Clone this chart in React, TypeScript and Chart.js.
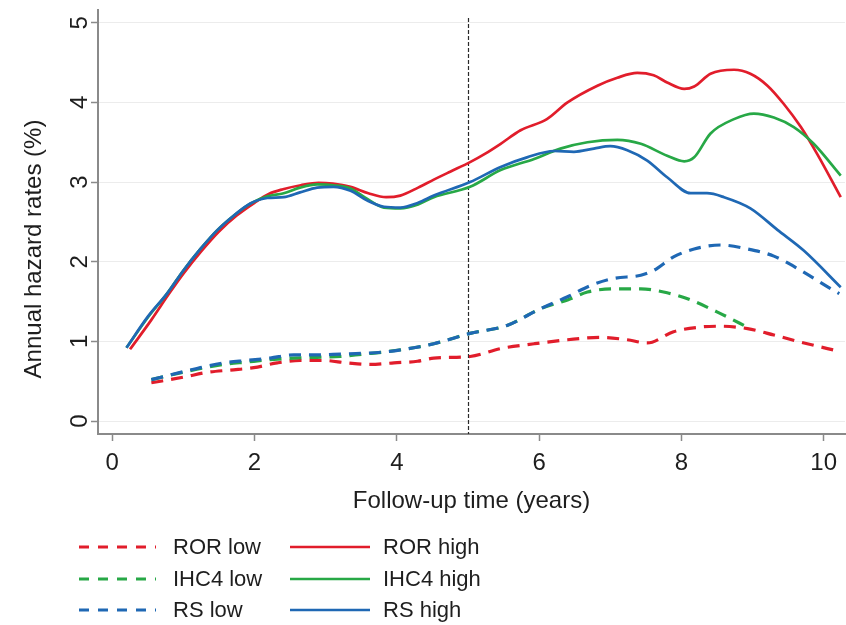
import { useEffect, useRef } from "react";
import { Chart, registerables } from "chart.js";

Chart.register(...registerables);

// ---- tick labels / axis settings ----
const xTicks = [0, 2, 4, 6, 8, 10];
const yTicks = [0, 1, 2, 3, 4, 5];
const cutoffYear = 5;
const xTitle = "Follow-up time (years)";
const yTitle = "Annual hazard rates (%)";

// ---- series ----
const rorHighX = [0.25, 0.55, 0.8, 1.0, 1.25, 1.5, 1.75, 2.0, 2.2, 2.4, 2.65, 2.9, 3.1, 3.35, 3.6, 3.85, 4.05, 4.3, 4.52, 4.75, 5.03, 5.25, 5.46, 5.74, 6.11, 6.4, 6.82, 7.1, 7.38, 7.61, 7.8, 8.04, 8.18, 8.41, 8.74, 8.97, 9.21, 9.44, 9.68, 9.91, 10.24];
const rorHighY = [0.9, 1.27, 1.6, 1.85, 2.13, 2.38, 2.58, 2.74, 2.85, 2.91, 2.96, 2.99, 2.98, 2.94, 2.86, 2.81, 2.83, 2.93, 3.03, 3.13, 3.25, 3.36, 3.48, 3.65, 3.79, 4.0, 4.21, 4.31, 4.37, 4.34, 4.25, 4.17, 4.2, 4.36, 4.41, 4.36, 4.21, 3.98, 3.69, 3.35, 2.81];

const ihc4HighX = [0.2, 0.5, 0.77, 1.0, 1.24, 1.47, 1.71, 1.94, 2.18, 2.41, 2.64, 2.88, 3.11, 3.35, 3.58, 3.82, 4.05, 4.3, 4.52, 5.03, 5.46, 5.93, 6.3, 6.68, 7.1, 7.43, 7.8, 8.04, 8.18, 8.41, 8.74, 9.02, 9.3, 9.58, 9.86, 10.24];
const ihc4HighY = [0.92, 1.3, 1.6, 1.89, 2.16, 2.39, 2.58, 2.73, 2.82, 2.86, 2.93, 2.97, 2.96, 2.92, 2.79, 2.68, 2.67, 2.72, 2.81, 2.94, 3.15, 3.29, 3.42, 3.5, 3.53, 3.48, 3.33, 3.26, 3.31, 3.61, 3.79, 3.86, 3.81, 3.69, 3.48, 3.08];

const rsHighX = [0.2, 0.5, 0.77, 1.0, 1.24, 1.47, 1.71, 1.94, 2.18, 2.41, 2.64, 2.88, 3.11, 3.35, 3.58, 3.82, 4.05, 4.3, 4.52, 5.03, 5.46, 5.83, 6.21, 6.49, 6.77, 7.0, 7.24, 7.52, 7.8, 8.13, 8.36, 8.6, 8.97, 9.35, 9.72, 10.24];
const rsHighY = [0.92, 1.31, 1.6, 1.89, 2.16, 2.39, 2.58, 2.73, 2.8, 2.81, 2.87, 2.93, 2.94, 2.89, 2.77, 2.69, 2.68, 2.74, 2.83, 3.0, 3.19, 3.31, 3.39, 3.38, 3.42, 3.45, 3.4, 3.27, 3.06, 2.86, 2.86, 2.81, 2.67, 2.4, 2.14, 1.68];

const rorLowX = [0.55, 1.0, 1.33, 1.66, 1.99, 2.32, 2.64, 2.97, 3.3, 3.63, 3.96, 4.29, 4.52, 5.03, 5.46, 5.93, 6.4, 6.86, 7.24, 7.52, 7.89, 8.27, 8.55, 8.93, 9.3, 9.68, 10.24];
const rorLowY = [0.48, 0.55, 0.61, 0.64, 0.67, 0.73, 0.76, 0.76, 0.73, 0.71, 0.73, 0.75, 0.79, 0.81, 0.91, 0.97, 1.02, 1.05, 1.02, 0.98, 1.12, 1.18, 1.19, 1.16, 1.08, 0.99, 0.87];

const ihc4LowX = [0.55, 1.19, 1.57, 1.89, 2.22, 2.55, 2.88, 3.21, 3.53, 3.86, 4.24, 4.52, 5.03, 5.55, 6.02, 6.4, 6.68, 7.05, 7.43, 7.8, 8.13, 8.5, 8.97];
const ihc4LowY = [0.52, 0.65, 0.71, 0.74, 0.77, 0.79, 0.8, 0.81, 0.84, 0.87, 0.92, 0.97, 1.1, 1.2, 1.41, 1.52, 1.62, 1.66, 1.66, 1.61, 1.52, 1.37, 1.16];

const rsLowX = [0.55, 1.19, 1.57, 1.89, 2.22, 2.55, 2.88, 3.21, 3.53, 3.86, 4.24, 4.52, 5.03, 5.55, 6.02, 6.4, 6.72, 7.05, 7.43, 7.61, 7.89, 8.18, 8.55, 8.93, 9.3, 9.68, 10.14, 10.22];
const rsLowY = [0.52, 0.66, 0.73, 0.76, 0.79, 0.83, 0.83, 0.84, 0.85, 0.87, 0.92, 0.97, 1.1, 1.2, 1.41, 1.56, 1.7, 1.79, 1.83, 1.89, 2.06, 2.16, 2.21, 2.16, 2.07, 1.89, 1.64, 1.6];

const legendRows = [
  ["ROR low", "ROR high"],
  ["IHC4 low", "IHC4 high"],
  ["RS low", "RS high"],
];

const RED = "#e11d2b";
const GREEN = "#27a846";
const BLUE = "#1f68b4";
const FONT = "'Liberation Sans', Arial, Helvetica, sans-serif";
const TEXT = "#1e1e1e";
const AXIS = "#8a8a8a";

const pts = (xs: number[], ys: number[]) => xs.map((x, i) => ({ x, y: ys[i] }));

export default function App() {
  const ref = useRef<HTMLCanvasElement>(null);

  useEffect(() => {
    if (!ref.current) return;

    const xlinePlugin = {
      id: "xline",
      beforeDatasetsDraw(chart: any) {
        const { ctx, chartArea, scales } = chart;
        const px = Math.round(scales.x.getPixelForValue(cutoffYear)) + 0.5;
        ctx.save();
        ctx.strokeStyle = "#2a2a2a";
        ctx.lineWidth = 1.2;
        ctx.setLineDash([4, 2]);
        ctx.beginPath();
        ctx.moveTo(px, chartArea.top + 8);
        ctx.lineTo(px, chartArea.bottom);
        ctx.stroke();
        ctx.restore();
      },
    };

    const textPlugin = {
      id: "texts",
      afterDraw(chart: any) {
        const ctx = chart.ctx;
        ctx.save();
        // y axis title
        ctx.fillStyle = TEXT;
        ctx.font = `24px ${FONT}`;
        ctx.textAlign = "center";
        ctx.textBaseline = "middle";
        ctx.translate(34, 249);
        ctx.rotate(-Math.PI / 2);
        ctx.fillText(yTitle, 0, 0);
        ctx.restore();

        // legend
        const rowY = [548, 580, 611];
        const cols = [
          { x0: 79, x1: 156, tx: 173 },
          { x0: 290, x1: 370, tx: 383 },
        ];
        legendRows.forEach((row, r) => {
          row.forEach((label, c) => {
            const ds = chart.data.datasets.find((d: any) => d.label === label);
            if (!ds) return;
            const col = cols[c];
            const y = rowY[r];
            ctx.save();
            ctx.strokeStyle = ds.borderColor;
            ctx.lineWidth = ds.borderWidth;
            ctx.setLineDash(ds.borderDash && ds.borderDash.length ? [10, 9] : []);
            ctx.beginPath();
            ctx.moveTo(col.x0, y - 1);
            ctx.lineTo(col.x1, y - 1);
            ctx.stroke();
            ctx.setLineDash([]);
            ctx.fillStyle = TEXT;
            ctx.font = `22px ${FONT}`;
            ctx.textAlign = "left";
            ctx.textBaseline = "middle";
            ctx.fillText(label, col.tx, y);
            ctx.restore();
          });
        });
      },
    };

    const line = (label: string, xs: number[], ys: number[], color: string, dashed: boolean, order: number) => ({
      label,
      data: pts(xs, ys),
      borderColor: color,
      backgroundColor: color,
      borderWidth: dashed ? 3.2 : 2.7,
      borderDash: dashed ? [12, 8] : [],
      pointRadius: 0,
      fill: false,
      cubicInterpolationMode: "monotone" as const,
      order,
    });

    const chart = new Chart(ref.current, {
      type: "line",
      data: {
        datasets: [
          line("ROR low", rorLowX, rorLowY, RED, true, 6),
          line("ROR high", rorHighX, rorHighY, RED, false, 5),
          line("IHC4 low", ihc4LowX, ihc4LowY, GREEN, true, 4),
          line("IHC4 high", ihc4HighX, ihc4HighY, GREEN, false, 3),
          line("RS low", rsLowX, rsLowY, BLUE, true, 2),
          line("RS high", rsHighX, rsHighY, BLUE, false, 1),
        ],
      },
      options: {
        responsive: false,
        animation: false,
        events: [],
        layout: { padding: { top: 10, right: 1, bottom: 109, left: 0 } },
        plugins: { legend: { display: false }, tooltip: { enabled: false }, title: { display: false } },
        scales: {
          x: {
            type: "linear",
            min: -0.2,
            max: 10.3,
            afterBuildTicks: (s: any) => {
              s.ticks = xTicks.map((v) => ({ value: v }));
            },
            afterFit: (s: any) => {
              s.height = 82;
              s.paddingLeft = 0;
              s.paddingRight = 0;
            },
            grid: { drawOnChartArea: false, drawTicks: true, tickLength: 7, tickColor: AXIS, tickWidth: 1.5 },
            border: { display: true, color: AXIS, width: 2 },
            ticks: {
              padding: 8,
              color: TEXT,
              font: { family: FONT, size: 24 },
              maxRotation: 0,
              minRotation: 0,
              callback: (v: any) => String(v),
            },
            title: { display: true, text: xTitle, color: TEXT, font: { family: FONT, size: 24 }, padding: { top: 0, bottom: 0 } },
          },
          y: {
            type: "linear",
            min: -0.163,
            max: 5.16,
            afterBuildTicks: (s: any) => {
              s.ticks = yTicks.map((v) => ({ value: v }));
            },
            afterFit: (s: any) => {
              s.width = 98;
              s.paddingTop = 0;
              s.paddingBottom = 0;
            },
            grid: { drawOnChartArea: true, color: "#ececec", lineWidth: 1, drawTicks: true, tickLength: 7, tickColor: AXIS, tickWidth: 1.5 },
            border: { display: true, color: AXIS, width: 2 },
            ticks: {
              padding: 4,
              color: TEXT,
              font: { family: FONT, size: 24 },
              minRotation: 90,
              maxRotation: 90,
              crossAlign: "center",
              callback: (v: any) => String(v),
            },
            title: { display: false },
          },
        },
      },
      plugins: [xlinePlugin, textPlugin],
    } as any);

    return () => chart.destroy();
  }, []);

  return (
    <div style={{ position: "absolute", left: 0, top: 0, width: 846, height: 625, background: "#fff" }}>
      <canvas ref={ref} width={846} height={625} style={{ display: "block" }} />
    </div>
  );
}
